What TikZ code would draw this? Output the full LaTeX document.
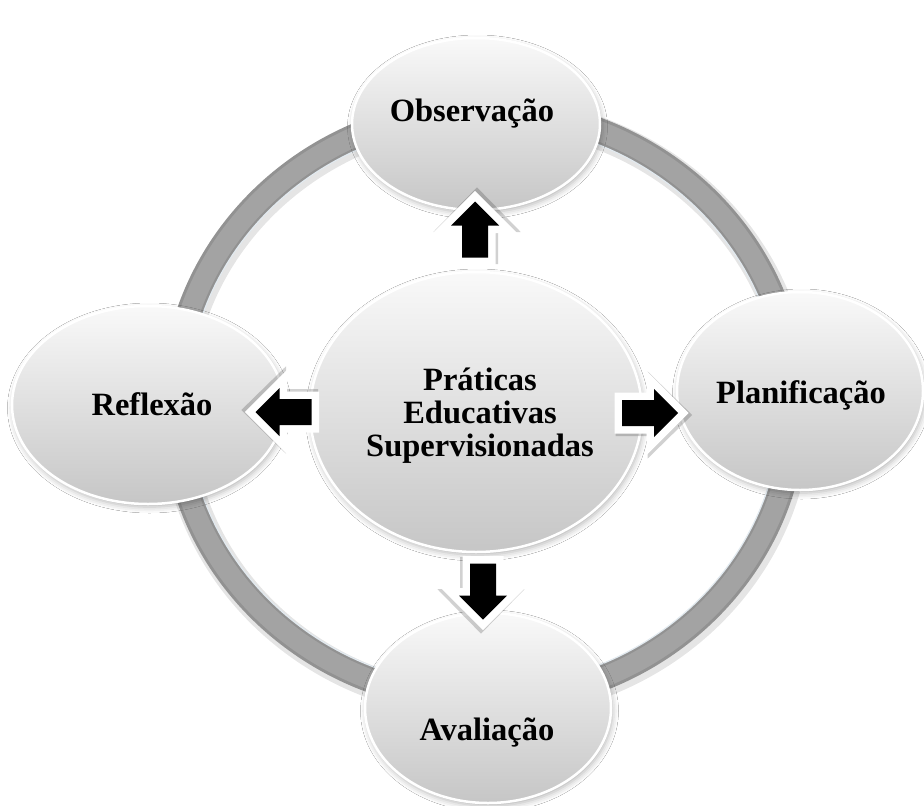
\documentclass[tikz,border=0pt]{standalone}
\usepackage{fontspec}
\setmainfont{Liberation Serif}
\usetikzlibrary{shapes.geometric,shadows.blur}
\definecolor{ringgray}{HTML}{A3A3A3}
\definecolor{ringdark}{HTML}{929292}
\definecolor{ringlight}{HTML}{E2EAF0}
\definecolor{bubtop}{HTML}{F9F9F9}
\definecolor{bubbot}{HTML}{C6C6C6}
\tikzset{
  bubble/.style={ellipse, inner sep=0pt, top color=bubtop, bottom color=bubbot,
    draw=white, line width=2.5pt,
    blur shadow={shadow blur radius=6pt, shadow xshift=1.5pt, shadow yshift=-3pt, shadow opacity=30}},
  lbl/.style={font=\bfseries\fontsize{32.5}{33}\selectfont, align=center, inner sep=0pt},
  blockarrow/.pic={
    \draw[black, opacity=0.18, line width=17pt, line join=miter, fill=black]
      (-26,-10.5) -- (6,-10.5) -- (6,-21.5) -- (30,2) -- (6,25.5) -- (6,14.5) -- (-26,14.5) -- cycle;
    \draw[white, line width=15pt, line join=miter, fill=white]
      (-28,-13) -- (4,-13) -- (4,-24) -- (28,0) -- (4,24) -- (4,13) -- (-28,13) -- cycle;
    \fill[black]
      (-28,-13) -- (4,-13) -- (4,-24) -- (28,0) -- (4,24) -- (4,13) -- (-28,13) -- cycle;
  }
}
\begin{document}
\begin{tikzpicture}[x=1pt,y=-1pt]
\useasboundingbox[fill=white] (0,0) rectangle (924,806);

% ring
\coordinate (rc) at (484,405);
\draw[black, opacity=0.10, line width=32pt] ([shift={(2,3)}]rc) ellipse [x radius=310pt, y radius=295pt];
\draw[ringdark, line width=26pt] (rc) ellipse [x radius=310pt, y radius=295pt];
\draw[ringgray, line width=20pt] (rc) ellipse [x radius=310pt, y radius=295pt];
\draw[ringlight, line width=1.2pt] (rc) ellipse [x radius=297pt, y radius=282pt];

% bubbles
\node[bubble, minimum width=248pt, minimum height=172pt] (obs) at (476,124) {};
\node[bubble, minimum width=272pt, minimum height=198pt] (refl) at (148,405) {};
\node[bubble, minimum width=246pt, minimum height=198pt] (plan) at (800,391) {};
\node[bubble, minimum width=246pt, minimum height=190pt] (aval) at (488,708) {};
\node[bubble, minimum width=332pt, minimum height=280pt] (ctr) at (476,412) {};

% labels
\node[lbl, anchor=base] (obst) at (472,121) {Observação};
\node[lbl, anchor=base] (reflt) at (152,415) {Reflexão};
\node[lbl, anchor=base] (plant) at (801,403) {Planificação};
\node[lbl, anchor=base] (avalt) at (487,740) {Avaliação};
\node[lbl] (ctrt) at (480,416) {Práticas\\Educativas\\Supervisionadas};

% block arrows from centre to each stage
\pic[rotate=90] at (475,229.5) {blockarrow};
\pic[rotate=180] at (283.5,412) {blockarrow};
\pic at (650,413) {blockarrow};
\pic[rotate=-90] at (483,591.5) {blockarrow};
\end{tikzpicture}
\end{document}
